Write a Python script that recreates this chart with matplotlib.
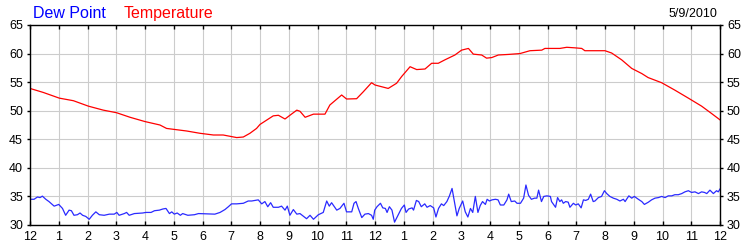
#! /usr/bin/env python3


# import libraries
import matplotlib
matplotlib.use("Agg")
import matplotlib.pyplot as plt


# chart data (hours after midnight, degrees F)
temp_hours = [0, 0.46, 1.02, 1.51, 2.03, 2.55, 3.01, 3.48, 4.0, 4.52,
              4.75, 5.45, 5.91, 6.38, 6.72, 7.19, 7.42, 7.65, 7.88, 8.0,
              8.46, 8.64, 8.87, 9.04, 9.28, 9.39, 9.57, 9.86, 10.26, 10.43,
              10.84, 11.01, 11.36, 11.59, 11.88, 12.0, 12.46, 12.75, 12.93, 13.22,
              13.45, 13.74, 13.97, 14.2, 14.43, 14.78, 15.01, 15.25, 15.42, 15.71,
              15.88, 16.06, 16.29, 16.64, 17.04, 17.39, 17.8, 17.91, 18.43, 18.67,
              18.96, 19.19, 19.3, 20.0, 20.23, 20.58, 20.93, 21.28, 21.5, 21.97,
              22.43, 22.9, 23.36, 23.71, 24.0]
temp_values = [53.9, 53.2, 52.2, 51.75, 50.8, 50.1, 49.65, 48.85, 48.1, 47.5,
               46.9, 46.45, 46.05, 45.75, 45.75, 45.3, 45.4, 46.05, 46.9, 47.6,
               49.1, 49.2, 48.55, 49.2, 50.1, 49.9, 48.85, 49.4, 49.4, 51.0,
               52.75, 52.05, 52.1, 53.3, 54.9, 54.5, 53.9, 54.8, 56.0, 57.7,
               57.2, 57.3, 58.3, 58.3, 58.9, 59.75, 60.6, 60.9, 59.9, 59.75,
               59.2, 59.3, 59.75, 59.85, 60.0, 60.5, 60.6, 60.9, 60.9, 61.1,
               61.0, 60.9, 60.5, 60.5, 60.1, 58.9, 57.4, 56.5, 55.8, 54.9,
               53.6, 52.2, 50.8, 49.5, 48.4]

dew_hours = [0, 0.14, 0.26, 0.35, 0.43, 0.55, 0.66, 0.84, 1.0, 1.13,
             1.24, 1.36, 1.44, 1.53, 1.65, 1.74, 1.83, 1.94, 2.06, 2.17,
             2.29, 2.41, 2.58, 2.76, 2.93, 3.02, 3.10, 3.28, 3.36, 3.45,
             3.63, 3.92, 4.03, 4.21, 4.33, 4.5, 4.62, 4.73, 4.85, 4.93,
             5.02, 5.12, 5.23, 5.31, 5.49, 5.72, 5.86,
             6.43, 6.61, 6.78, 6.90, 7.01, 7.19, 7.42, 7.59, 7.71, 7.94,
             8.06, 8.17, 8.27, 8.37, 8.46, 8.64, 8.75, 8.87, 8.95, 9.04,
             9.16, 9.28, 9.39, 9.62, 9.74, 9.86, 10.03, 10.20, 10.32, 10.41,
             10.49, 10.67, 10.78, 10.92, 11.01, 11.19, 11.27, 11.34, 11.42, 11.54,
             11.65, 11.77, 11.88, 11.94,
             11.99, 12.07, 12.19, 12.27, 12.36, 12.42, 12.50, 12.59, 12.68, 12.80,
             12.92, 13.02, 13.08, 13.17, 13.29, 13.34, 13.44, 13.52, 13.61, 13.73,
             13.81, 13.92, 14.04, 14.12, 14.21, 14.31, 14.39, 14.50, 14.59, 14.68,
             14.77, 14.85, 14.93, 15.05, 15.14, 15.23, 15.32, 15.40, 15.49, 15.58,
             15.66, 15.74, 15.84, 15.90, 15.98, 16.07, 16.19, 16.28, 16.36, 16.48,
             16.59, 16.65, 16.74, 16.86, 16.94, 17.06, 17.17, 17.25, 17.34, 17.44,
             17.55, 17.63, 17.69, 17.79, 17.87, 17.98, 18.10,
             18.14, 18.28, 18.35, 18.43, 18.49, 18.55, 18.63, 18.72, 18.78, 18.90,
             18.98, 19.07, 19.17, 19.25, 19.33, 19.42, 19.50, 19.59, 19.65, 19.77,
             19.88, 19.98, 20.06, 20.17, 20.29, 20.41, 20.52, 20.64, 20.70, 20.75,
             20.83, 20.93, 21.02, 21.16, 21.28, 21.37, 21.51, 21.62, 21.74, 21.86,
             21.97, 22.09, 22.20, 22.32, 22.43, 22.55, 22.67, 22.78, 22.90, 23.01,
             23.13, 23.25, 23.36, 23.46, 23.54, 23.65, 23.77, 23.88, 23.94, 24.0]
dew_values = [34.5, 34.5, 34.9, 34.8, 35.05, 34.5, 34.1, 33.3, 33.6, 32.9,
              31.7, 32.6, 32.5, 31.7, 31.8, 32.1, 31.7, 31.5, 31.0, 31.7,
              32.3, 31.8, 31.7, 31.9, 31.9, 32.2, 31.7, 32.0, 32.2, 31.7,
              32.0, 32.1, 32.2, 32.2, 32.5, 32.6, 32.8, 32.9, 32.0, 32.3,
              31.9, 32.1, 31.7, 32.0, 31.7, 31.8, 32.0,
              31.9, 32.2, 32.7, 33.2, 33.7, 33.7, 33.8, 34.2, 34.2, 34.4,
              33.7, 34.1, 33.2, 33.9, 33.1, 33.1, 33.3, 32.6, 33.3, 31.7,
              32.7, 31.9, 32.0, 31.1, 31.7, 31.0, 31.8, 32.2, 34.2, 33.3,
              33.9, 32.6, 32.9, 33.8, 32.3, 32.3, 33.8, 34.1, 32.9, 31.3,
              31.9, 32.0, 31.7, 31.0,
              32.6, 33.2, 33.8, 33.0, 32.9, 32.2, 33.2, 32.6, 30.5, 31.7,
              32.9, 33.5, 32.2, 32.8, 33.0, 32.6, 34.3, 34.1, 33.2, 33.7,
              33.1, 33.4, 33.0, 31.4, 32.9, 33.7, 33.4, 34.1, 35.1, 36.4,
              33.8, 31.6, 32.9, 34.2, 32.3, 31.4, 32.9, 32.2, 35.0, 32.2,
              33.4, 34.1, 33.6, 34.5, 34.2, 34.4, 34.5, 34.4, 33.5, 33.5,
              34.4, 35.4, 34.1, 34.2, 33.8, 33.8, 34.7, 37.0, 35.2, 34.5,
              34.7, 34.7, 36.1, 34.1, 35.0, 35.1, 35.0,
              34.1, 33.1, 34.8, 34.1, 34.4, 33.8, 34.1, 34.0, 33.1, 33.8,
              33.5, 33.7, 33.0, 34.4, 34.3, 34.5, 35.4, 34.1, 34.2, 34.8,
              35.0, 36.0, 35.5, 35.0, 34.7, 34.5, 34.2, 34.5, 34.1, 34.5,
              35.1, 34.7, 35.0, 34.5, 34.1, 33.6, 34.0, 34.4, 34.7, 34.8,
              35.0, 34.8, 35.1, 35.1, 35.3, 35.3, 35.5, 35.8, 36.0, 35.7,
              35.8, 35.5, 35.8, 35.7, 35.5, 36.1, 35.5, 36.0, 35.8, 36.3]

hour_labels = ["12", "1", "2", "3", "4", "5", "6", "7", "8", "9", "10", "11",
               "12", "1", "2", "3", "4", "5", "6", "7", "8", "9", "10", "11", "12"]
y_ticks = [30, 35, 40, 45, 50, 55, 60, 65]
date_text = "5/9/2010"


# set matplotlib parameters
plt.rcParams["font.family"] = ["Liberation Sans", "DejaVu Sans"]
plt.rcParams["font.size"] = 9
plt.rcParams["figure.facecolor"] = "white"
plt.rcParams["axes.linewidth"] = 1.0


# setup figure
fig = plt.figure(figsize=(7.5, 2.5), dpi=100)
ax = fig.add_axes([0.04, 0.1, 0.92, 0.8])


# plot figure
ax.plot(temp_hours, temp_values, color="#ff0000", lw=0.9)
ax.plot(dew_hours, dew_values, color="#2a2aff", lw=0.9)

ax.set_xlim(0, 24)
ax.set_ylim(30, 65)
ax.set_xticks(range(len(hour_labels)))
ax.set_xticklabels(hour_labels)
ax.set_yticks(y_ticks)
ax.grid(True, color="#cccccc", lw=0.8)
ax.set_axisbelow(True)

ax.tick_params(axis="x", direction="in", top=True, length=3.2, width=1.0, pad=4)
ax.tick_params(axis="y", direction="out", right=True, labelright=True, length=2.5, width=1.0, pad=2.5)


# legend and date texts
fig.text(0.044, 0.928, "Dew Point", color="#0000ff", fontsize=11.5)
fig.text(0.165, 0.928, "Temperature", color="#ff0000", fontsize=11.5)
fig.text(0.957, 0.933, date_text, color="black", fontsize=9, ha="right")

fig.savefig("out.png", dpi=100)
